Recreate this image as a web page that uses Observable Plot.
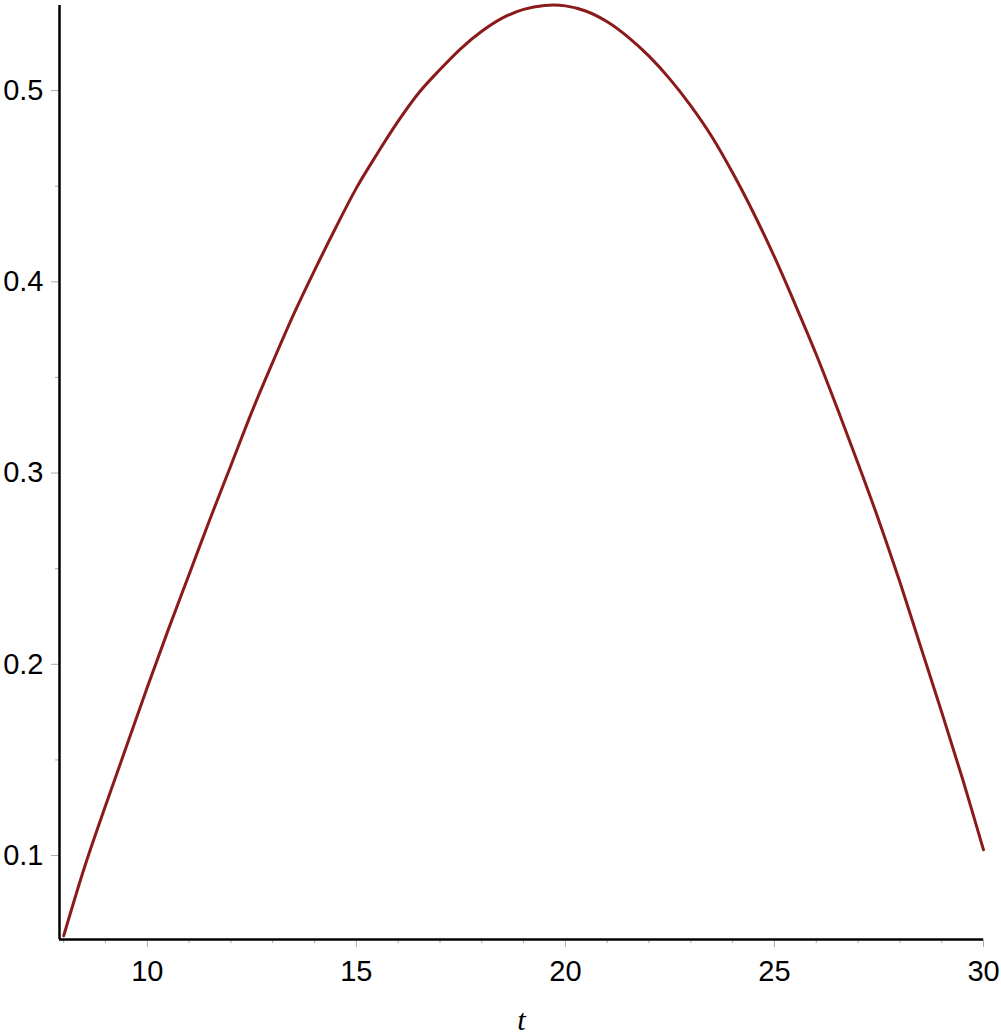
<!DOCTYPE html>
<html>
<head>
<meta charset="utf-8">
<script src="https://cdn.jsdelivr.net/npm/d3@7"></script>
<script src="https://cdn.jsdelivr.net/npm/@observablehq/plot@0.6"></script>
<style>
  html, body { margin: 0; padding: 0; background: white; }
</style>
</head>
<body>
<div id="chart"></div>
<script>
const tValues = [8.0, 8.5, 9.0, 9.5, 10.0, 10.5, 11.0, 11.5, 12.0, 12.5, 13.0, 13.5, 14.0, 14.5, 15.0, 15.5,
  16.0, 16.5, 17.0, 17.5, 18.0, 18.5, 19.0, 19.5, 20.0, 20.5, 21.0, 21.5, 22.0, 22.5, 23.0, 23.5,
  24.0, 24.5, 25.0, 25.5, 26.0, 26.5, 27.0, 27.5, 28.0, 28.5, 29.0, 29.5, 30.0];
const seriesValues = [0.058, 0.094, 0.126, 0.157, 0.188, 0.218, 0.247, 0.276, 0.304, 0.332, 0.358, 0.383, 0.406, 0.428, 0.449, 0.467,
  0.484, 0.499, 0.511, 0.522, 0.531, 0.538, 0.5425, 0.5445, 0.5443, 0.5415, 0.536, 0.528, 0.518, 0.506, 0.492, 0.476,
  0.457, 0.436, 0.413, 0.388, 0.362, 0.334, 0.305, 0.275, 0.243, 0.209, 0.175, 0.140, 0.103];
const xMajorTicks = [10, 15, 20, 25, 30];
const xMinorTicks = [8, 9, 11, 12, 13, 14, 16, 17, 18, 19, 21, 22, 23, 24, 26, 27, 28, 29];
const yMajorTicks = [0.1, 0.2, 0.3, 0.4, 0.5];
const yMinorTicks = [0.15, 0.25, 0.35, 0.45];
const xLabel = "t";
const xDomain = [7.9, 30];
const yDomain = [0.0561, 0.5445];

const data = tValues.map((t, i) => ({t, v: seriesValues[i]}));

const chart = Plot.plot({
  width: 1001,
  height: 1035,
  marginLeft: 59,
  marginRight: 18,
  marginTop: 5,
  marginBottom: 96,
  style: {fontFamily: "Liberation Sans, Arial, sans-serif", fontSize: "29px", background: "white", color: "black"},
  x: {domain: xDomain},
  y: {domain: yDomain},
  marks: [
    Plot.axisX(xMinorTicks, {tickSize: 4, stroke: "#aaa", tickFormat: () => "", label: null}),
    Plot.axisX(xMajorTicks, {tickSize: 8, tickPadding: 13, stroke: "#aaa", fill: "black", tickFormat: d => String(d), label: null}),
    Plot.axisY(yMinorTicks, {tickSize: 4, stroke: "#aaa", tickFormat: () => "", label: null}),
    Plot.axisY(yMajorTicks, {tickSize: 8, tickPadding: 8, stroke: "#aaa", fill: "black", tickFormat: d => d.toFixed(1), label: null}),
    Plot.ruleX([xDomain[0]], {stroke: "black", strokeWidth: 2.5}),
    Plot.ruleY([yDomain[0]], {stroke: "black", strokeWidth: 2.5}),
    Plot.line(data, {x: "t", y: "v", stroke: "#8b1a1a", strokeWidth: 3, curve: "catmull-rom"}),
    Plot.text([xLabel], {text: d => d, frameAnchor: "bottom", dy: 69, lineAnchor: "top",
      fontStyle: "italic", fontFamily: "Liberation Serif, serif", fontSize: 30, fill: "black"})
  ]
});
document.getElementById("chart").appendChild(chart);
</script>
</body>
</html>
